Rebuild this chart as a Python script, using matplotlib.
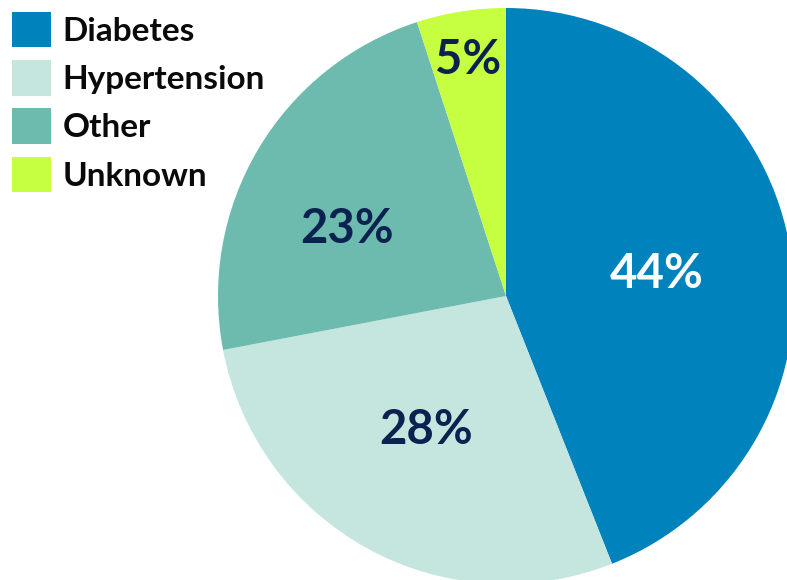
import numpy as np
import matplotlib
matplotlib.use("Agg")
import matplotlib.pyplot as plt
from matplotlib.patches import Patch

# data
labels = ["Diabetes", "Hypertension", "Other", "Unknown"]
shares = [44, 28, 23, 5]
colors = ["#0083BC", "#C5E5DF", "#6CBBAE", "#C6FF40"]
text_colors = ["white", "#0B2150", "#0B2150", "#0B2150"]

# where each % label sits: fraction of radius, angle nudge (deg)
label_r = [0.53, 0.54, 0.60, 0.83]
label_da = [-2.5, -2.0, 7.9, 0.0]

plt.rcParams["font.family"] = ["Lato", "DejaVu Sans"]

W, H = 787, 580
fig = plt.figure(figsize=(W / 100, H / 100), dpi=100)
ax = fig.add_axes([0, 0, 1, 1])

cx, cy, R = 506, H - 296, 288
wedges, _ = ax.pie(shares, colors=colors, startangle=90, counterclock=False,
                   center=(cx, cy), radius=R, frame=True,
                   wedgeprops=dict(linewidth=0))

for w, s, tc, fr, da in zip(wedges, shares, text_colors, label_r, label_da):
    ang = np.deg2rad((w.theta1 + w.theta2) / 2 + da)
    ax.text(cx + fr * R * np.cos(ang), cy + fr * R * np.sin(ang), f"{s}%",
            ha="center", va="center", fontsize=34, fontweight="bold", color=tc)

ax.set_xlim(0, W)
ax.set_ylim(0, H)
ax.set_aspect("equal")
ax.axis("off")

handles = [Patch(facecolor=c, edgecolor="none") for c in colors]
leg = fig.legend(handles, labels, loc="upper left", bbox_to_anchor=(0.0, 1.0),
                 bbox_transform=fig.transFigure, frameon=False,
                 prop=dict(size=24, weight="bold"), handlelength=1.17,
                 handleheight=1.27, handletextpad=0.35, labelspacing=0.38,
                 borderaxespad=0.15, borderpad=0.2)
for t in leg.get_texts():
    t.set_color("#0A0A0A")

fig.savefig("out.png", dpi=100)
